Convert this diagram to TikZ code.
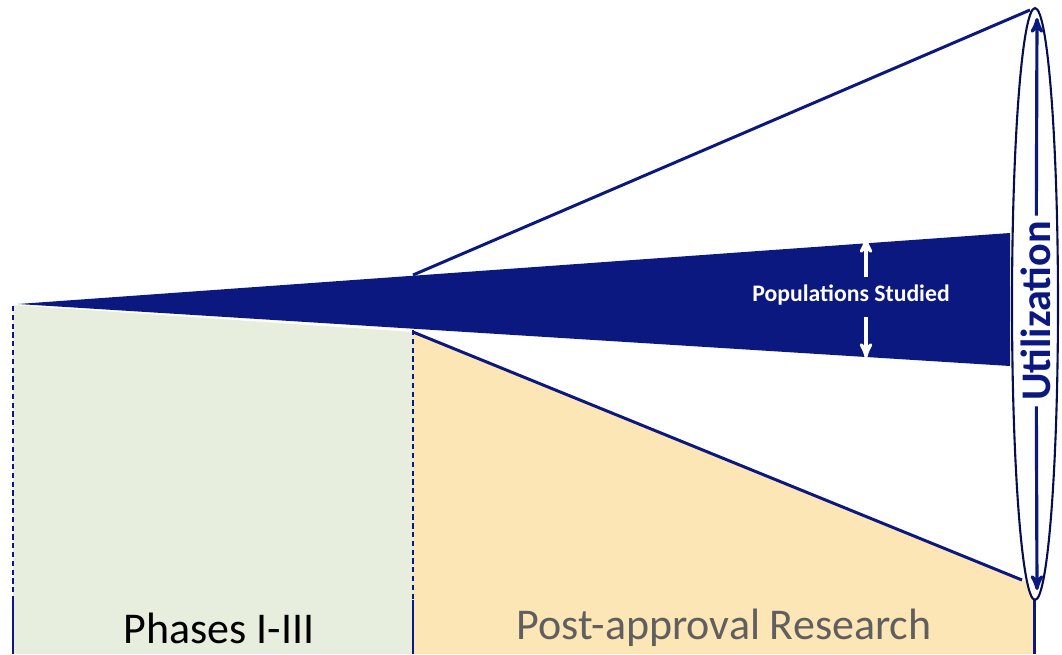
\documentclass[tikz,border=0pt]{standalone}
\usepackage{fontspec}
\setmainfont{Carlito}
\usetikzlibrary{shapes.geometric,arrows}
\definecolor{navy}{RGB}{10,24,128}
\definecolor{phasegreen}{RGB}{232,238,221}
\definecolor{postpeach}{RGB}{253,230,181}
\definecolor{labelgray}{RGB}{95,95,95}

\begin{document}
\begin{tikzpicture}[x=0.02cm, y=-0.02cm, >=stealth']
    \tikzstyle{every node} = [font=\small]
    \tikzstyle{funnel} = [draw=navy, line width=1.7pt]
    \tikzstyle{divider} = [draw=navy, dash pattern=on 3pt off 2pt, line width=0.6pt]
    \tikzstyle{tick} = [draw=navy, line width=1.7pt]
    \tikzstyle{phase} = [font=\fontsize{25}{28}\selectfont]
    \tikzstyle{arrowline} = [line width=1.8pt]

    \useasboundingbox (0,0) rectangle (1062,654);

    \coordinate (tip) at (18,304);
    \coordinate (wtop) at (1010,233);
    \coordinate (wbot) at (1010,366);
    \coordinate (ftop) at (413,275);
    \coordinate (fbot) at (413,332);
    \coordinate (rtop) at (1030,10);
    \coordinate (rbot) at (1022,580);

    % coloured panels
    \fill[phasegreen] (13,305) -- (fbot) -- (413,654) -- (13,654) -- cycle;
    \fill[postpeach] (fbot) -- (rbot) -- (1035,585) -- (1035,654) -- (413,654) -- cycle;

    % funnel
    \draw[funnel] (ftop) -- (rtop);
    \draw[funnel] (fbot) -- (rbot);
    \fill[navy] (tip) -- (wtop) -- (wbot) -- cycle;

    % dividers
    \draw[divider] (13,306) -- (13,600);
    \draw[divider] (413,330) -- (413,600);
    \draw[tick] (13,600) -- (13,654);
    \draw[tick] (413,600) -- (413,654);
    \draw[tick] (1034,598) -- (1034,654);

    \node (lens) [ellipse, draw=navy!60!black, line width=1.2pt, fill=white,
        minimum width=0.92cm, minimum height=11.84cm] at (1035,304) {};
    \coordinate (utop) at (1037,18);
    \coordinate (ubot) at (1037,590);
    \node (util) [rotate=90, text=navy, inner sep=3pt,
        font=\bfseries\fontsize{24}{26}\selectfont] at (1036,311) {Utilization};
    \draw[->, navy, arrowline] (util) -- (utop);
    \draw[->, navy, arrowline] (util) -- (ubot);

    \node (pop) [text=white, font=\bfseries\fontsize{13.5}{15}\selectfont] at (851,295) {Populations Studied};
    \coordinate (pup) at (866,277);
    \coordinate (ptop) at (866,238);
    \coordinate (pdown) at (866,317);
    \coordinate (pbot) at (866,358);
    \draw[->, white, arrowline] (pup) -- (ptop);
    \draw[->, white, arrowline] (pdown) -- (pbot);

    \node (phases) [phase] at (219,628) {Phases I-III};
    \node (post) [phase, text=labelgray] at (724,628) {Post-approval Research};
\end{tikzpicture}
\end{document}
